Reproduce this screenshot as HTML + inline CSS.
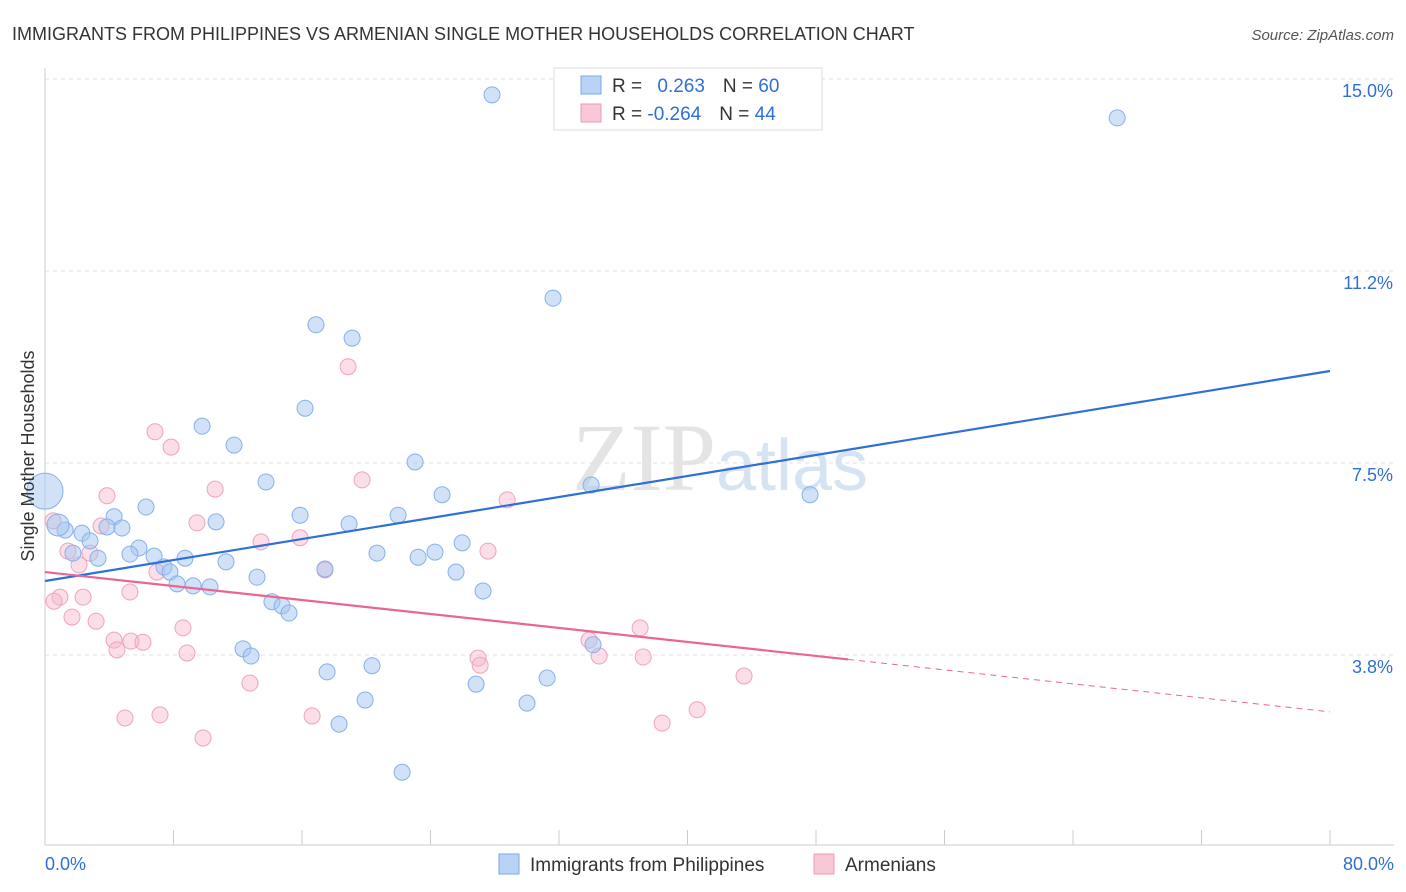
<!DOCTYPE html>
<html><head><meta charset="utf-8">
<style>
body{margin:0;background:#fff;font-family:"Liberation Sans",sans-serif;}
svg{display:block}
</style></head>
<body>
<svg id="chart" width="1406" height="892" viewBox="0 0 1406 892" xmlns="http://www.w3.org/2000/svg">
<text x="12" y="40" font-size="18" fill="#333">IMMIGRANTS FROM PHILIPPINES VS ARMENIAN SINGLE MOTHER HOUSEHOLDS CORRELATION CHART</text>
<text x="1394" y="40" font-size="15" fill="#555" font-style="italic" text-anchor="end">Source: ZipAtlas.com</text>
<text x="720" y="490" font-size="96" fill="#e4e4e4" text-anchor="middle" font-family="Liberation Serif,serif">ZIP<tspan fill="#d6e3f3" font-family="Liberation Sans,sans-serif" font-size="72">atlas</tspan></text>
<g id="grid"></g>
<g id="axes"></g>
<g id="marks"></g>
<text transform="translate(34,456) rotate(-90)" font-size="18" fill="#333" text-anchor="middle">Single Mother Households</text>
<g>
<rect x="554" y="68" width="268" height="62" fill="#fff" stroke="#ddd"/>
<rect x="581" y="76" width="20" height="18" fill="#b8d3f5" stroke="#7aa8e6"/>
<text x="612" y="92" font-size="19" fill="#333">R = <tspan fill="#2f6fd6" dx="10">0.263</tspan><tspan fill="#333" dx="18">N = </tspan><tspan fill="#2f6fd6">60</tspan></text>
<rect x="581" y="104" width="20" height="18" fill="#f9c8d6" stroke="#ee9ab4"/>
<text x="612" y="120" font-size="19" fill="#333">R = <tspan fill="#2f6fd6">-0.264</tspan><tspan fill="#333" dx="18">N = </tspan><tspan fill="#2f6fd6">44</tspan></text>
</g>
<g>
<rect x="499" y="854" width="20" height="20" fill="#b8d3f5" stroke="#7aa8e6"/>
<text x="530" y="871" font-size="19" fill="#333">Immigrants from Philippines</text>
<rect x="814" y="854" width="20" height="20" fill="#f9c8d6" stroke="#ee9ab4"/>
<text x="845" y="871" font-size="19" fill="#333">Armenians</text>
</g>
</svg>
<script>
const yTicks=[15.0,11.25,7.5,3.75];
const yTickLabels=["15.0%","11.2%","7.5%","3.8%"];
const xLabels=["0.0%","80.0%"];
const blueX=[27.83,66.75,31.63,16.87,19.12,16.19,9.78,11.77,23.04,13.76,34.0,24.72,47.63,6.29,15.88,10.65,21.98,18.93,4.30,3.86,4.79,1.25,2.30,2.80,5.85,5.29,6.79,25.97,24.28,20.67,23.23,8.72,3.30,1.74,11.27,7.41,7.78,17.43,25.59,13.2,8.22,9.22,10.27,27.27,14.13,14.76,15.19,34.12,12.33,12.83,20.36,17.56,31.26,26.84,19.93,30.01,18.31,22.23,0,0.81];
const blueY=[14.69,14.24,10.72,10.2,9.94,8.57,8.22,7.85,7.52,7.13,7.07,6.88,6.88,6.64,6.48,6.35,6.48,6.31,6.45,6.25,6.23,6.19,6.13,5.98,5.84,5.72,5.68,5.94,5.76,5.74,5.66,5.64,5.64,5.74,5.57,5.47,5.37,5.43,5.37,5.27,5.14,5.10,5.08,5.0,4.79,4.71,4.57,3.95,3.87,3.73,3.54,3.42,3.30,3.18,2.87,2.81,2.40,1.46,6.95,6.29];
const blueR=[8,8,8,8,8,8,8,8,8,8,8,8,8,8,8,8,8,8,8,8,8,8,8,8,8,8,8,8,8,8,8,8,8,8,8,8,8,8,8,8,8,8,8,8,8,8,8,8,8,8,8,8,8,8,8,8,8,8,18,11];
const pinkX=[18.87,6.85,7.85,10.59,3.86,19.74,28.77,9.46,3.49,0.5,13.45,15.88,27.58,1.43,2.8,2.12,6.97,17.43,5.29,0.93,2.37,0.56,1.68,3.18,8.59,37.05,4.30,5.35,6.10,4.48,8.84,33.87,34.5,37.24,26.96,27.09,43.52,12.76,40.6,7.16,4.98,16.63,38.42,9.84];
const pinkY=[9.38,8.11,7.81,6.99,6.86,7.17,6.78,6.33,6.27,6.37,5.96,6.04,5.78,5.78,5.74,5.51,5.37,5.41,4.98,4.88,4.88,4.80,4.49,4.41,4.28,4.28,4.04,4.02,4.0,3.85,3.79,4.04,3.73,3.71,3.69,3.55,3.34,3.20,2.68,2.58,2.52,2.56,2.42,2.13];
const blueTrend=[5.195,9.297];
const pinkTrend=[5.37,2.64];
const pinkSolidEnd=50;
const NS="http://www.w3.org/2000/svg";
const X0=45,X1=1330,XMAX=80,YTOP=79,PXPER=51.2;
const sx=v=>X0+(X1-X0)*v/XMAX;
const sy=v=>YTOP+(15-v)*PXPER;
function mk(tag,attrs,parent){const e=document.createElementNS(NS,tag);for(const k in attrs)e.setAttribute(k,attrs[k]);parent.appendChild(e);return e;}
const grid=document.getElementById('grid'),axes=document.getElementById('axes'),marks=document.getElementById('marks');
yTicks.forEach((t,i)=>{
 const l=mk('line',{x1:45,x2:1394,y1:sy(t),y2:sy(t),stroke:'#e2e2e2','stroke-dasharray':'4,4'},grid);
 
 
 const tx=mk('text',{x:1393,y:sy(t)+24-6,'font-size':18,fill:'#2f6fd6','text-anchor':'end'},axes);
 tx.textContent=yTickLabels[i];
 
 
});
const ya=mk('line',{x1:45,x2:45,y1:68,y2:845,stroke:'#ccc'},axes);


const xa=mk('line',{x1:45,x2:1394,y1:845,y2:845,stroke:'#ccc'},axes);


for(let v=0;v<=80;v+=8){
 const t=mk('line',{x1:sx(v),x2:sx(v),y1:830,y2:845,stroke:'#ccc'},axes);
 
 
}
[[0,'start',45],[80,'end',1394]].forEach((a,i)=>{
 const t=mk('text',{x:a[2],y:870,'font-size':18,fill:'#2f6fd6','text-anchor':a[1]},axes);
 t.textContent=xLabels[i];
 
 
});
function dots(xs,ys,rs,fill,stroke,name){
 xs.forEach((x,i)=>{
  const c=mk('circle',{cx:sx(x),cy:sy(ys[i]),r:rs?rs[i]:8,fill:fill,stroke:stroke,'stroke-width':1},marks);
  
  
 });
}
dots(pinkX,pinkY,null,'rgba(247,182,202,0.45)','#f0a3bb','armenian-point');
dots(blueX,blueY,blueR,'rgba(164,198,242,0.5)','#86b0ea','philippines-point');
const pAt=v=>pinkTrend[0]+(pinkTrend[1]-pinkTrend[0])*v/XMAX;
const bl=mk('line',{x1:sx(0),y1:sy(blueTrend[0]),x2:sx(80),y2:sy(blueTrend[1]),stroke:'#2f6fd6','stroke-width':2.2},marks);


const pl=mk('line',{x1:sx(0),y1:sy(pAt(0)),x2:sx(pinkSolidEnd),y2:sy(pAt(pinkSolidEnd)),stroke:'#e8668f','stroke-width':2.2},marks);


const pd=mk('line',{x1:sx(pinkSolidEnd),y1:sy(pAt(pinkSolidEnd)),x2:sx(80),y2:sy(pAt(80)),stroke:'#e8668f','stroke-width':1,'stroke-dasharray':'6,5'},marks);


</script>
</body></html>
